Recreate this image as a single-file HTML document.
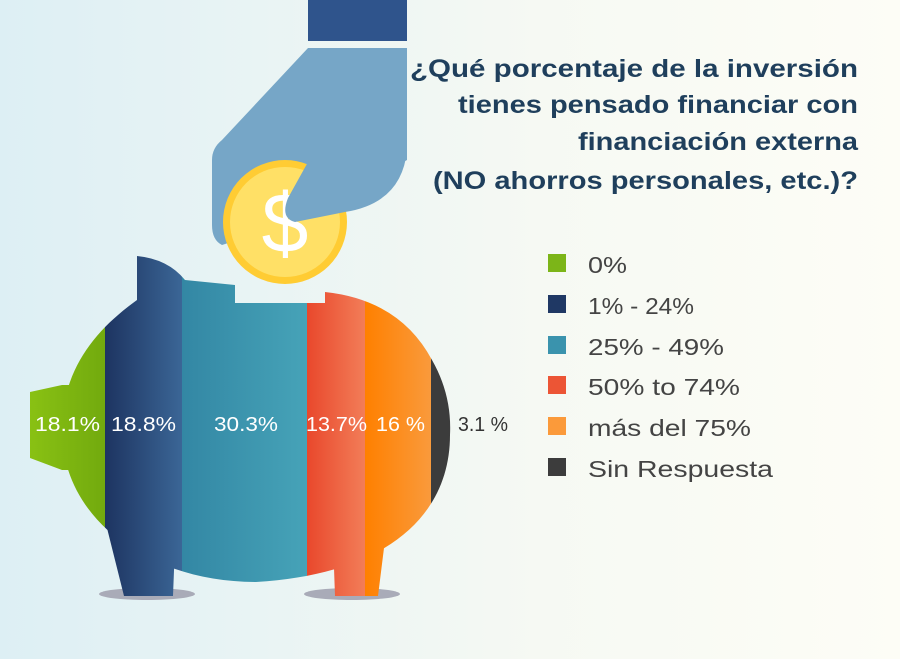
<!DOCTYPE html>
<html><head><meta charset="utf-8"><style>
html,body{margin:0;padding:0}
body{width:900px;height:659px;overflow:hidden;font-family:"Liberation Sans",sans-serif}
</style></head><body>
<svg width="900" height="659" viewBox="0 0 900 659" xmlns="http://www.w3.org/2000/svg">
<defs>
<linearGradient id="bg" x1="0" x2="1" y1="0" y2="0"><stop offset="0" stop-color="#ddeff4"/><stop offset="0.6" stop-color="#f6f9f3"/><stop offset="1" stop-color="#fdfdf6"/></linearGradient>
<linearGradient id="g1" x1="0" x2="1"><stop offset="0" stop-color="#8cc414"/><stop offset="1" stop-color="#72aa0e"/></linearGradient>
<linearGradient id="g2" x1="0" x2="1"><stop offset="0" stop-color="#1d3461"/><stop offset="1" stop-color="#3b6696"/></linearGradient>
<linearGradient id="g3" x1="0" x2="1"><stop offset="0" stop-color="#3387a4"/><stop offset="1" stop-color="#46a3b8"/></linearGradient>
<linearGradient id="g4" x1="0" x2="1"><stop offset="0" stop-color="#e9482c"/><stop offset="1" stop-color="#f27d58"/></linearGradient>
<linearGradient id="g5" x1="0" x2="1"><stop offset="0" stop-color="#ff8000"/><stop offset="1" stop-color="#f99a3c"/></linearGradient>
<clipPath id="pig">
<path d="M62,430 C62,370 95,330 137,300 L137,256 Q168,259 185,280 L235,285 L235,303 L325,303 L325,292 Q400,300 432,360 Q452,395 450,435 C450,520 380,575 256,582 C150,582 62,520 62,430 Z"/>
<path d="M30,392 L62,385 L70,385 L70,470 L62,470 L30,458 Z"/>
<path d="M105,520 L176,520 L173,596 L124,596 Z"/>
<path d="M333,540 L385,540 L378,596 L335,596 Z"/>
</clipPath>
</defs>
<rect width="900" height="659" fill="url(#bg)"/>
<ellipse cx="147" cy="594" rx="48" ry="6" fill="#a9abb8"/>
<ellipse cx="352" cy="594" rx="48" ry="6" fill="#a9abb8"/>
<g clip-path="url(#pig)">
<rect x="20" y="240" width="85" height="370" fill="url(#g1)"/>
<rect x="105" y="240" width="77" height="370" fill="url(#g2)"/>
<rect x="182" y="240" width="125" height="370" fill="url(#g3)"/>
<rect x="307" y="240" width="58" height="370" fill="url(#g4)"/>
<rect x="365" y="240" width="66" height="370" fill="url(#g5)"/>
<rect x="431" y="240" width="30" height="370" fill="#3c3c3c"/>
</g>
<g font-size="20" fill="#fff" lengthAdjust="spacingAndGlyphs">
<text x="35" y="431" textLength="65" lengthAdjust="spacingAndGlyphs">18.1%</text>
<text x="111" y="431" textLength="65" lengthAdjust="spacingAndGlyphs">18.8%</text>
<text x="214" y="431" textLength="64" lengthAdjust="spacingAndGlyphs">30.3%</text>
<text x="306" y="431" textLength="61" lengthAdjust="spacingAndGlyphs">13.7%</text>
<text x="376" y="431" textLength="49" lengthAdjust="spacingAndGlyphs">16 %</text>
</g>
<text x="458" y="431" font-size="20" fill="#333" textLength="50" lengthAdjust="spacingAndGlyphs">3.1 %</text>
<rect x="308" y="0" width="99" height="41" fill="#2f548c"/>
<path d="M308,48 L407,48 L407,160 L300,220 L222,245 Q212,240 212,225 L212,160 Q212,148 222,140 Z" fill="#76a6c7"/>
<circle cx="285" cy="222" r="62" fill="#ffcc33"/>
<circle cx="285" cy="222" r="55" fill="#ffe066"/>
<text x="285" y="252" font-size="84" fill="#fff" text-anchor="middle">$</text>
<path d="M407,150 Q402,203 345,212 L295,222 Q280,218 288,198 L308,162 Z" fill="#76a6c7"/>
<g font-size="25" font-weight="bold" fill="#1f3f5c">
<text x="410" y="77" textLength="448" lengthAdjust="spacingAndGlyphs">¿Qué porcentaje de la inversión</text>
<text x="458" y="113" textLength="400" lengthAdjust="spacingAndGlyphs">tienes pensado financiar con</text>
<text x="578" y="150" textLength="280" lengthAdjust="spacingAndGlyphs">financiación externa</text>
<text x="433" y="189" textLength="425" lengthAdjust="spacingAndGlyphs">(NO ahorros personales, etc.)?</text>
</g>
<rect x="548" y="254" width="18" height="18" fill="#7cb518"/>
<rect x="548" y="295" width="18" height="18" fill="#1f3864"/>
<rect x="548" y="336" width="18" height="18" fill="#3a93ad"/>
<rect x="548" y="376" width="18" height="18" fill="#ec5535"/>
<rect x="548" y="417" width="18" height="18" fill="#fb9a3a"/>
<rect x="548" y="458" width="18" height="18" fill="#3c3c3c"/>
<g font-size="23" fill="#444">
<text x="588" y="273" textLength="39" lengthAdjust="spacingAndGlyphs">0%</text>
<text x="588" y="314" textLength="106" lengthAdjust="spacingAndGlyphs">1% - 24%</text>
<text x="588" y="355" textLength="136" lengthAdjust="spacingAndGlyphs">25% - 49%</text>
<text x="588" y="395" textLength="152" lengthAdjust="spacingAndGlyphs">50% to 74%</text>
<text x="588" y="436" textLength="163" lengthAdjust="spacingAndGlyphs">más del 75%</text>
<text x="588" y="477" textLength="185" lengthAdjust="spacingAndGlyphs">Sin Respuesta</text>
</g>
</svg>
</body></html>
